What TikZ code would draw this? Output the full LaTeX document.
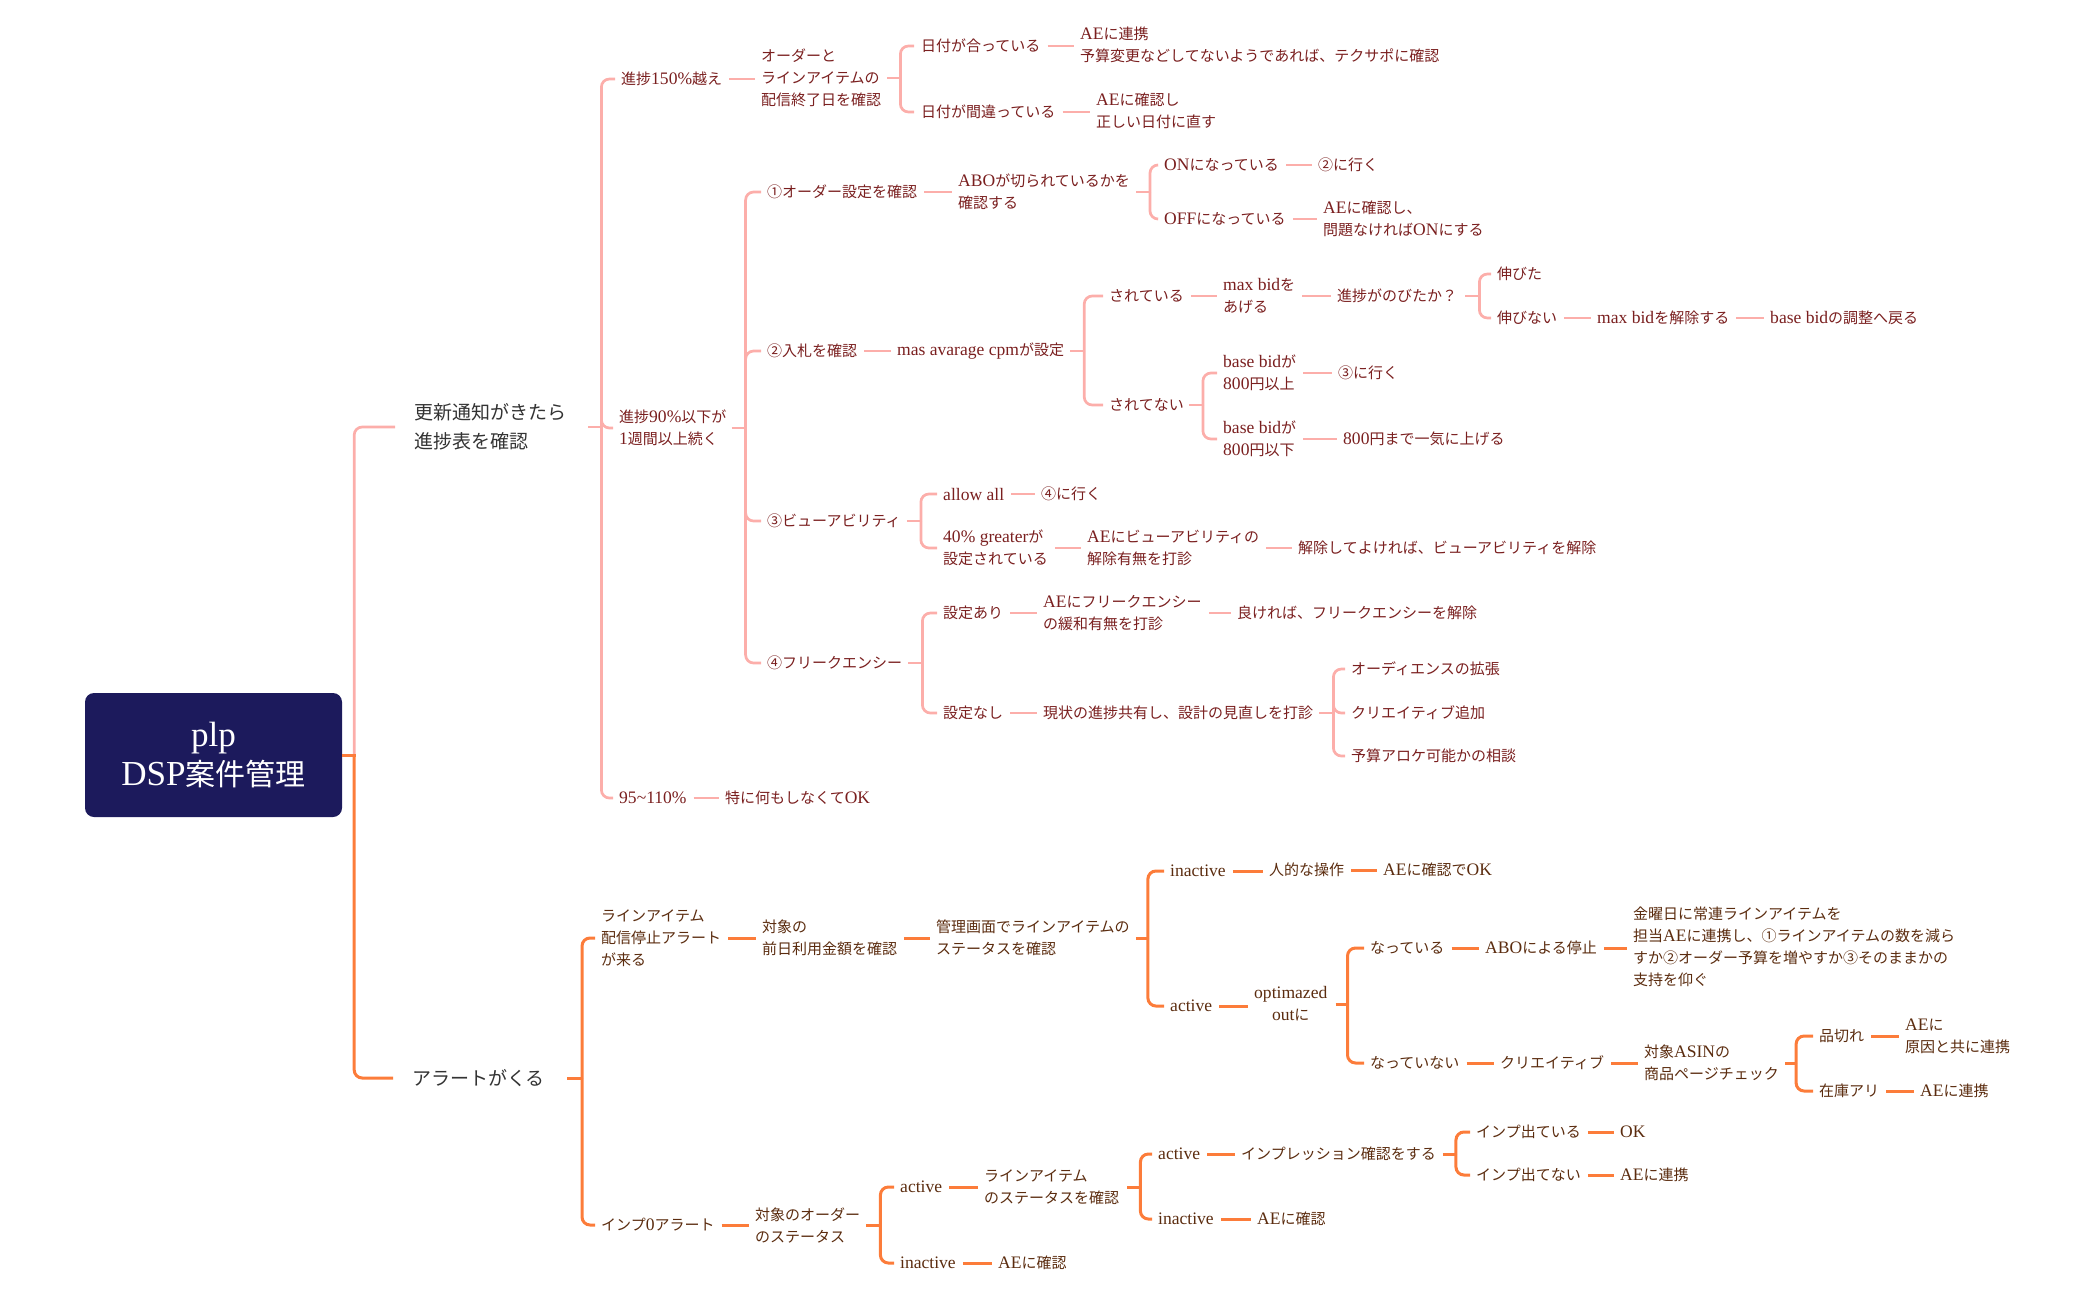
\documentclass[tikz,border=0pt]{standalone}
\usepackage{fontspec}
\setmainfont{Liberation Serif}[Scale=1.17]
\newfontfamily\jp{Noto Sans CJK JP}
\XeTeXinterchartokenstate=1
\newXeTeXintercharclass\JPclass
\newcount\jpc
\def\setjprange#1#2{\jpc=#1\relax\loop\XeTeXcharclass\jpc=\JPclass\relax\ifnum\jpc<#2\relax\advance\jpc by 1\relax\repeat}
\setjprange{"2460}{"24FF}
\setjprange{"3000}{"30FF}
\setjprange{"4E00}{"9FFF}
\setjprange{"FF00}{"FFEF}
\XeTeXinterchartoks 0 \JPclass = {\jp}
\XeTeXinterchartoks 4095 \JPclass = {\jp}
\XeTeXinterchartoks \JPclass 0 = {\rmfamily}
\XeTeXinterchartoks 4095 0 = {\rmfamily}
\definecolor{pinkline}{HTML}{FCAEAA}
\definecolor{orgline}{HTML}{FC7C3A}
\definecolor{pinktext}{HTML}{7A1F1F}
\definecolor{orgtext}{HTML}{5B2C0F}
\definecolor{lvtext}{HTML}{333333}
\definecolor{rootfill}{HTML}{1C1A5C}
\newcommand\brk[6]{%
  \coordinate (j) at ([xshift=#4]#2.east);
  \draw[#1] ([xshift=#3]#2.east) -- (j);
  \foreach \c in {#6} {\draw[#1,rounded corners=8pt] (j) -- (j |- \c.west) -- ([xshift=-#5]\c.west);}%
}
\newcommand\lnk[3]{\draw[#1] ([xshift=7pt]#2.east) -- ([xshift=-6pt]#2.east -| #3.west);}
\begin{document}
\begin{tikzpicture}[x=1pt,y=-1pt,
  pk/.style={draw=pinkline,line width=2.7pt},
  og/.style={draw=orgline,line width=3pt},
  tx/.style={anchor=west,inner sep=0pt,align=left,font=\fontsize{15}{22}\selectfont},
  tp/.style={tx,text=pinktext},
  to/.style={tx,text=orgtext},
  lv/.style={anchor=west,inner sep=0pt,align=left,text=lvtext,font=\fontsize{19}{29}\selectfont},
  rootbox/.style={fill=rootfill,rounded corners=9pt,minimum width=257pt,minimum height=124pt,inner sep=0pt,align=center,text=white,font=\fontsize{30}{39}\selectfont}]
\path[use as bounding box] (0,0) rectangle (2100,1299);

% root and level 1
\node[rootbox] (R) at (213.5,755) {plp\\DSP案件管理};
\node[lv] (A1) at (414,427) {更新通知がきたら\\進捗表を確認};
\node[lv] (A2) at (412,1078) {アラートがくる};

% pink branch
\node[tp] (B1) at (621,79) {進捗150\%越え};
\node[tp] (B2) at (619,428) {進捗90\%以下が\\1週間以上続く};
\node[tp] (B3) at (619,798) {95\string~110\%};
\node[tp] (C1) at (761,78) {オーダーと\\ラインアイテムの\\配信終了日を確認};
\node[tp] (D1) at (921,46) {日付が合っている};
\node[tp] (D2) at (921,112) {日付が間違っている};
\node[tp] (E1) at (1080,45) {AEに連携\\予算変更などしてないようであれば、テクサポに確認};
\node[tp] (E2) at (1096,111) {AEに確認し\\正しい日付に直す};
\node[tp] (C2) at (767,192) {①オーダー設定を確認};
\node[tp] (F1) at (958,192) {ABOが切られているかを\\確認する};
\node[tp] (G1) at (1164,165) {ONになっている};
\node[tp] (H1) at (1318,165) {②に行く};
\node[tp] (G2) at (1164,219) {OFFになっている};
\node[tp] (H2) at (1323,219) {AEに確認し、\\問題なければONにする};
\node[tp] (C3) at (767,351) {②入札を確認};
\node[tp] (F2) at (897,351) {mas avarage cpmが設定};
\node[tp] (I1) at (1109,296) {されている};
\node[tp] (J1) at (1223,296) {max bidを\\あげる};
\node[tp] (K1) at (1337,296) {進捗がのびたか？};
\node[tp] (L1) at (1497,274) {伸びた};
\node[tp] (L2) at (1497,318) {伸びない};
\node[tp] (M1) at (1597,318) {max bidを解除する};
\node[tp] (M2) at (1770,318) {base bidの調整へ戻る};
\node[tp] (I2) at (1109,405) {されてない};
\node[tp] (J2) at (1223,373) {base bidが\\800円以上};
\node[tp] (K2) at (1338,373) {③に行く};
\node[tp] (J3) at (1223,439) {base bidが\\800円以下};
\node[tp] (K3) at (1343,439) {800円まで一気に上げる};
\node[tp] (C4) at (767,521) {③ビューアビリティ};
\node[tp] (N1) at (943,494) {allow all};
\node[tp] (O1) at (1041,494) {④に行く};
\node[tp] (N2) at (943,548) {40\% greaterが\\設定されている};
\node[tp] (O2) at (1087,548) {AEにビューアビリティの\\解除有無を打診};
\node[tp] (O3) at (1298,548) {解除してよければ、ビューアビリティを解除};
\node[tp] (C5) at (767,663) {④フリークエンシー};
\node[tp] (P1) at (943,613) {設定あり};
\node[tp] (Q1) at (1043,613) {AEにフリークエンシー\\の緩和有無を打診};
\node[tp] (Q2) at (1237,613) {良ければ、フリークエンシーを解除};
\node[tp] (P2) at (943,713) {設定なし};
\node[tp] (Q3) at (1043,713) {現状の進捗共有し、設計の見直しを打診};
\node[tp] (R1) at (1351,669) {オーディエンスの拡張};
\node[tp] (R2) at (1351,713) {クリエイティブ追加};
\node[tp] (R3) at (1351,756) {予算アロケ可能かの相談};
\node[tp] (C6) at (725,798) {特に何もしなくてOK};

% orange branch
\node[to] (S1) at (601,938) {ラインアイテム\\配信停止アラート\\が来る};
\node[to] (T1) at (762,938) {対象の\\前日利用金額を確認};
\node[to] (T2) at (936,938) {管理画面でラインアイテムの\\ステータスを確認};
\node[to] (U1) at (1170,871) {inactive};
\node[to] (V1) at (1269,870) {人的な操作};
\node[to] (V2) at (1383,870) {AEに確認でOK};
\node[to] (U2) at (1170,1006) {active};
\node[to,align=center] (W1) at (1254,1004) {optimazed\\outに};
\node[to] (X1) at (1370,948) {なっている};
\node[to] (Y1) at (1485,948) {ABOによる停止};
\node[to] (Y2) at (1633,947) {金曜日に常連ラインアイテムを\\担当AEに連携し、①ラインアイテムの数を減ら\\すか②オーダー予算を増やすか③そのままかの\\支持を仰ぐ};
\node[to] (X2) at (1370,1063) {なっていない};
\node[to] (Z1) at (1500,1063) {クリエイティブ};
\node[to] (Z2) at (1644,1063) {対象ASINの\\商品ページチェック};
\node[to] (a1) at (1819,1036) {品切れ};
\node[to] (b1) at (1905,1036) {AEに\\原因と共に連携};
\node[to] (a2) at (1819,1091) {在庫アリ};
\node[to] (b2) at (1920,1091) {AEに連携};
\node[to] (S2) at (601,1225) {インプ0アラート};
\node[to] (T3) at (755,1225) {対象のオーダー\\のステータス};
\node[to] (c1) at (900,1187) {active};
\node[to] (d1) at (984,1187) {ラインアイテム\\のステータスを確認};
\node[to] (e1) at (1158,1154) {active};
\node[to] (f1) at (1241,1154) {インプレッション確認をする};
\node[to] (g1) at (1476,1132) {インプ出ている};
\node[to] (h1) at (1620,1132) {OK};
\node[to] (g2) at (1476,1175) {インプ出てない};
\node[to] (h2) at (1620,1175) {AEに連携};
\node[to] (e2) at (1158,1219) {inactive};
\node[to] (f2) at (1257,1219) {AEに確認};
\node[to] (c2) at (900,1263) {inactive};
\node[to] (d2) at (998,1263) {AEに確認};

% root connectors
\coordinate (rj) at ([xshift=12pt]R.east);
\draw[pk,rounded corners=8pt] (rj) -- (rj |- A1.west) -- ([xshift=-19pt]A1.west);
\draw[og,rounded corners=8pt] (rj) -- (rj |- A2.west) -- ([xshift=-19pt]A2.west);
\draw[og] (R.east) -- ([xshift=1.5pt]rj);

% pink connectors
\brk{pk}{A1}{22pt}{35pt}{6pt}{B1,B2,B3}
\lnk{pk}{B1}{C1}
\brk{pk}{C1}{6pt}{19pt}{7pt}{D1,D2}
\lnk{pk}{D1}{E1}
\lnk{pk}{D2}{E2}
\brk{pk}{B2}{5pt}{19pt}{6pt}{C2,C3,C4,C5}
\lnk{pk}{C2}{F1}
\brk{pk}{F1}{6pt}{20pt}{6pt}{G1,G2}
\lnk{pk}{G1}{H1}
\lnk{pk}{G2}{H2}
\lnk{pk}{C3}{F2}
\brk{pk}{F2}{6pt}{20pt}{6pt}{I1,I2}
\lnk{pk}{I1}{J1}
\lnk{pk}{J1}{K1}
\brk{pk}{K1}{8pt}{22pt}{6pt}{L1,L2}
\lnk{pk}{L2}{M1}
\lnk{pk}{M1}{M2}
\brk{pk}{I2}{5pt}{19pt}{6pt}{J2,J3}
\lnk{pk}{J2}{K2}
\lnk{pk}{J3}{K3}
\brk{pk}{C4}{6pt}{20pt}{6pt}{N1,N2}
\lnk{pk}{N1}{O1}
\lnk{pk}{N2}{O2}
\lnk{pk}{O2}{O3}
\brk{pk}{C5}{6pt}{20pt}{6pt}{P1,P2}
\lnk{pk}{P1}{Q1}
\lnk{pk}{Q1}{Q2}
\lnk{pk}{P2}{Q3}
\brk{pk}{Q3}{6pt}{20pt}{6pt}{R1,R2,R3}
\lnk{pk}{B3}{C6}

% orange connectors
\brk{og}{A2}{22pt}{37pt}{6pt}{S1,S2}
\lnk{og}{S1}{T1}
\lnk{og}{T1}{T2}
\brk{og}{T2}{6pt}{18pt}{6pt}{U1,U2}
\lnk{og}{U1}{V1}
\lnk{og}{V1}{V2}
\lnk{og}{U2}{W1}
\brk{og}{W1}{8pt}{20pt}{6pt}{X1,X2}
\lnk{og}{X1}{Y1}
\lnk{og}{Y1}{Y2}
\lnk{og}{X2}{Z1}
\lnk{og}{Z1}{Z2}
\brk{og}{Z2}{6pt}{17pt}{6pt}{a1,a2}
\lnk{og}{a1}{b1}
\lnk{og}{a2}{b2}
\lnk{og}{S2}{T3}
\brk{og}{T3}{6pt}{20pt}{6pt}{c1,c2}
\lnk{og}{c1}{d1}
\lnk{og}{c2}{d2}
\brk{og}{d1}{8pt}{21pt}{6pt}{e1,e2}
\lnk{og}{e1}{f1}
\lnk{og}{e2}{f2}
\brk{og}{f1}{7pt}{20pt}{6pt}{g1,g2}
\lnk{og}{g1}{h1}
\lnk{og}{g2}{h2}
\end{tikzpicture}
\end{document}
